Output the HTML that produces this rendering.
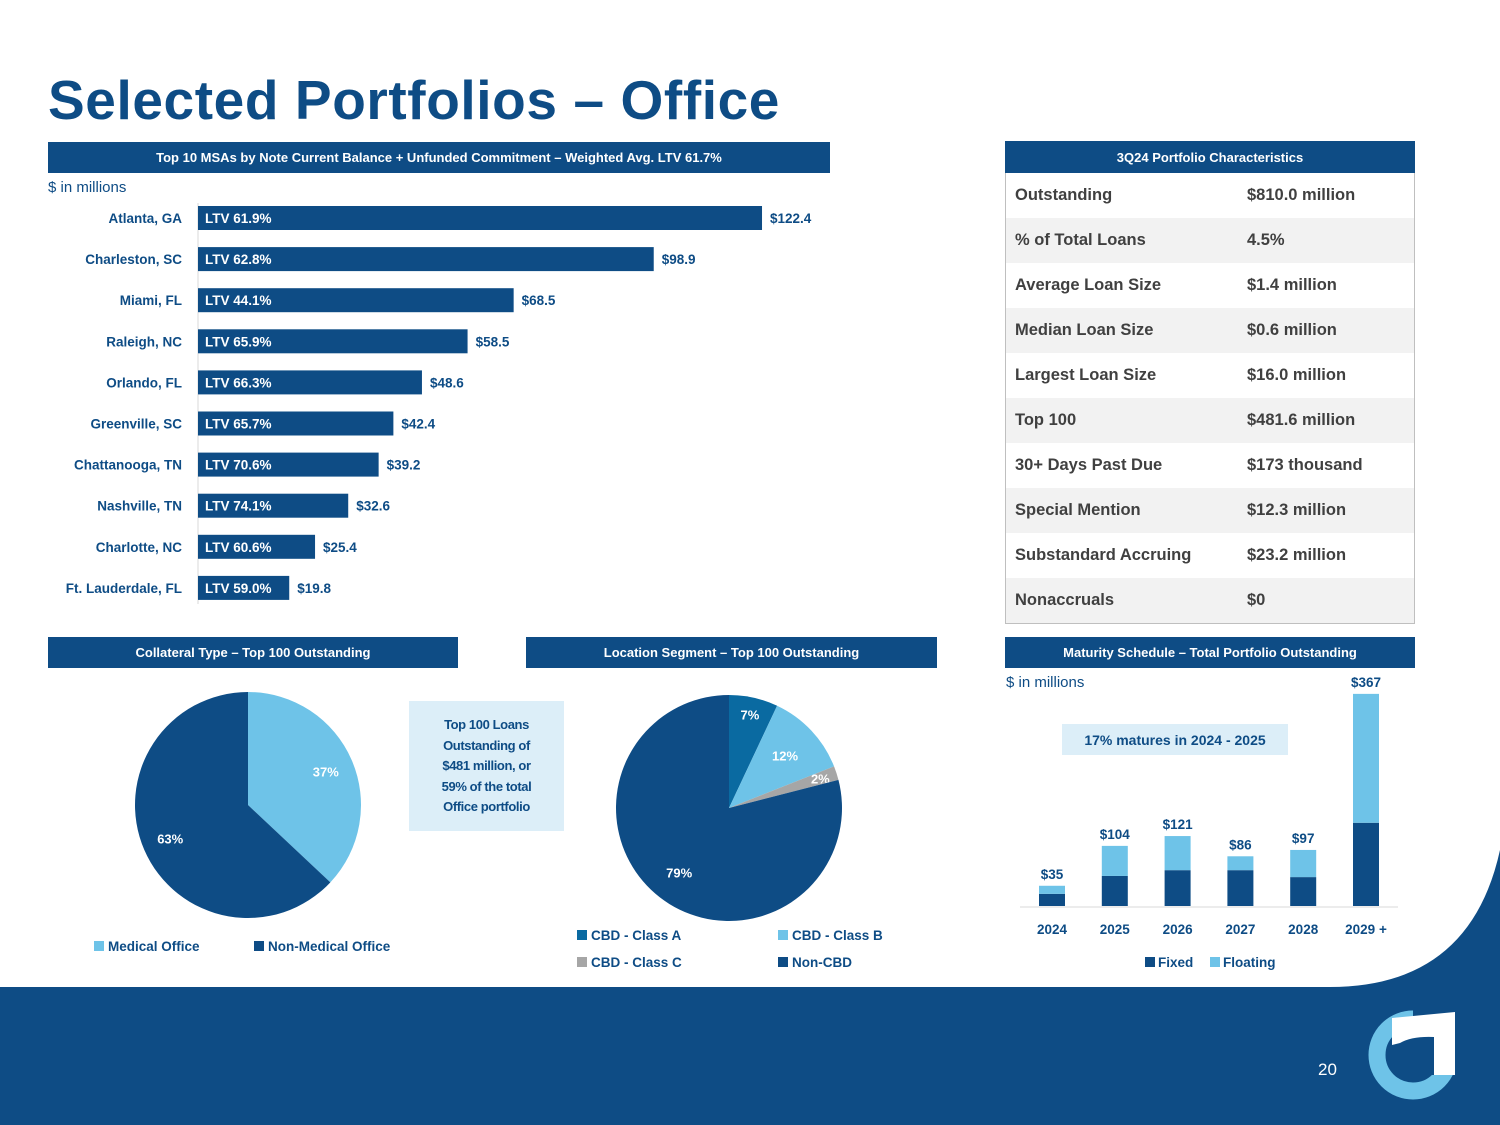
<!DOCTYPE html>
<html><head><meta charset="utf-8"><style>
*{margin:0;padding:0;box-sizing:border-box}
body{width:1500px;height:1125px;position:relative;background:#fff;font-family:"Liberation Sans",sans-serif;overflow:hidden;color:#0e4c85}
.abs{position:absolute}
.hdr{position:absolute;background:#0e4c85;color:#fff;font-weight:bold;font-size:13px;text-align:center;display:flex;align-items:center;justify-content:center}
.tbl{position:absolute;left:1005px;top:173px;width:410px;border:1px solid #bfbfbf;border-top:none}
.row{height:45px;display:flex;align-items:center;font-size:16.5px;font-weight:bold;color:#404040}
.row:nth-child(even){background:#f2f2f2}
.row span:first-child{width:241px;padding-left:9px}
</style></head><body>
<svg class="abs" style="left:0;top:0" width="1500" height="1125">
<rect x="0" y="987" width="1500" height="138" fill="#0e4c85"/>
<path d="M1500,850 Q1470,987 1330,987 L1500,987 Z" fill="#0e4c85"/>
<circle cx="1413" cy="1055" r="36" fill="none" stroke="#6ec3e8" stroke-width="17"/>
<rect x="1413" y="1000" width="60" height="75" fill="#0e4c85"/>
<path d="M1392,1018 L1455,1012 L1455,1075 L1434,1075 L1434,1037 Q1412,1036 1400,1043 L1392,1045 Z" fill="#fff"/>
<text x="1318" y="1075" font-size="17" fill="#fff" font-family="Liberation Sans">20</text>
</svg>
<div class="abs" style="left:48px;top:68px;font-size:55px;font-weight:bold;color:#0e4c85;letter-spacing:0.6px">Selected Portfolios – Office</div>

<div class="hdr" style="left:48px;top:142px;width:782px;height:31px">Top 10 MSAs by Note Current Balance + Unfunded Commitment – Weighted Avg. LTV 61.7%</div>
<div class="abs" style="left:48px;top:179px;font-size:15px;color:#0e4c85">$ in millions</div>
<svg class="abs" id="msa" style="left:0;top:0" width="900" height="620"></svg>

<div class="hdr" style="left:1005px;top:141px;width:410px;height:32px">3Q24 Portfolio Characteristics</div>
<div class="tbl">
<div class="row"><span>Outstanding</span><span>$810.0 million</span></div>
<div class="row"><span>% of Total Loans</span><span>4.5%</span></div>
<div class="row"><span>Average Loan Size</span><span>$1.4 million</span></div>
<div class="row"><span>Median Loan Size</span><span>$0.6 million</span></div>
<div class="row"><span>Largest Loan Size</span><span>$16.0 million</span></div>
<div class="row"><span>Top 100</span><span>$481.6 million</span></div>
<div class="row"><span>30+ Days Past Due</span><span>$173 thousand</span></div>
<div class="row"><span>Special Mention</span><span>$12.3 million</span></div>
<div class="row"><span>Substandard Accruing</span><span>$23.2 million</span></div>
<div class="row"><span>Nonaccruals</span><span>$0</span></div>
</div>

<div class="hdr" style="left:48px;top:637px;width:410px;height:31px">Collateral Type – Top 100 Outstanding</div>
<div class="hdr" style="left:526px;top:637px;width:411px;height:31px">Location Segment – Top 100 Outstanding</div>
<div class="hdr" style="left:1005px;top:637px;width:410px;height:31px">Maturity Schedule – Total Portfolio Outstanding</div>

<div class="abs" style="left:409px;top:701px;width:155px;height:130px;background:#dceef8;font-size:13px;letter-spacing:-0.4px;font-weight:bold;text-align:center;line-height:20.5px;padding-top:14px;color:#0e4c85">Top 100 Loans<br>Outstanding of<br>$481 million, or<br>59% of the total<br>Office portfolio</div>

<svg class="abs" id="pies" style="left:0;top:0" width="1000" height="990"></svg>

<div class="abs" style="left:1006px;top:674px;font-size:15px;color:#0e4c85">$ in millions</div>
<div class="abs" style="left:1062px;top:724px;width:226px;height:31px;background:#dceef8;font-size:14px;font-weight:bold;display:flex;align-items:center;justify-content:center">17% matures in 2024 - 2025</div>
<svg class="abs" id="mat" style="left:0;top:0" width="1500" height="990"></svg>

<script>
const NS="http://www.w3.org/2000/svg";
function mk(p,t,a){const e=document.createElementNS(NS,t);for(const k in a)e.setAttribute(k,a[k]);p.appendChild(e);return e;}
const navy="#0e4c85",light="#6ec3e8";

// MSA chart
const msaCities=["Atlanta, GA","Charleston, SC","Miami, FL","Raleigh, NC","Orlando, FL","Greenville, SC","Chattanooga, TN","Nashville, TN","Charlotte, NC","Ft. Lauderdale, FL"];
const msaBalances=[122.4,98.9,68.5,58.5,48.6,42.4,39.2,32.6,25.4,19.8];
const msaLtv=["61.9%","62.8%","44.1%","65.9%","66.3%","65.7%","70.6%","74.1%","60.6%","59.0%"];
const msa=document.getElementById('msa');
const mx=v=>198+v*4.608, my=i=>218+i*41.1;
mk(msa,'line',{x1:198,y1:203,x2:198,y2:604,stroke:'#d9d9d9'});
msaCities.forEach((c,i)=>{
 const y=my(i);
 const r=mk(msa,'rect',{x:198,y:y-12,width:mx(msaBalances[i])-198,height:24,fill:navy});
 
 
 const t=mk(msa,'text',{x:182,y:y+5,'text-anchor':'end','font-size':13.5,'font-weight':'bold',fill:navy});t.textContent=c;
 
 
 const l=mk(msa,'text',{x:205,y:y+5,'font-size':13.5,'font-weight':'bold',fill:'#fff'});l.textContent='LTV '+msaLtv[i];
 
 
 const v=mk(msa,'text',{x:mx(msaBalances[i])+8,y:y+5,'font-size':13.5,'font-weight':'bold',fill:navy});v.textContent='$'+msaBalances[i].toFixed(1);
 
 
});

// Pies
const collateralLabels=["Medical Office","Non-Medical Office"];
const collateralValues=[37,63];
const collateralColors=[light,navy];
const locationLabels=["CBD - Class A","CBD - Class B","CBD - Class C","Non-CBD"];
const locationValues=[7,12,2,79];
const locationColors=["#0a6aa1",light,"#a6a6a6",navy];
const pies=document.getElementById('pies');
function pie(cx,cy,r,vals,cols,name,lblPos){
 const tot=vals.reduce((a,b)=>a+b,0);let a0=-Math.PI/2;
 vals.forEach((v,i)=>{
  const a1=a0+v/tot*2*Math.PI;
  const x0=cx+r*Math.cos(a0),y0=cy+r*Math.sin(a0),x1=cx+r*Math.cos(a1),y1=cy+r*Math.sin(a1);
  const p=mk(pies,'path',{d:`M${cx},${cy} L${x0},${y0} A${r},${r} 0 ${a1-a0>Math.PI?1:0} 1 ${x1},${y1} Z`,fill:cols[i]});
  
  
  const am=(a0+a1)/2,lr=r*lblPos[i];
  const t=mk(pies,'text',{x:cx+lr*Math.cos(am),y:cy+lr*Math.sin(am)+5,'text-anchor':'middle','font-size':13,'font-weight':'bold',fill:'#fff'});
  t.textContent=v+'%';
  
  
  a0=a1;
 });
}
pie(248,805,113,collateralValues,collateralColors,'collateral',[0.75,0.75]);
pie(729,808,113,locationValues,locationColors,'location',[0.85,0.68,0.85,0.72]);
function legend(x,y,col,txt,name){
 const r=mk(pies,'rect',{x:x,y:y-10,width:10,height:10,fill:col});
 
 
 const t=mk(pies,'text',{x:x+14,y:y,'font-size':13.5,'font-weight':'bold',fill:navy});t.textContent=txt;
 
 
}
legend(94,951,collateralColors[0],collateralLabels[0],'collateral');
legend(254,951,collateralColors[1],collateralLabels[1],'collateral');
legend(577,940,locationColors[0],locationLabels[0],'location');
legend(778,940,locationColors[1],locationLabels[1],'location');
legend(577,967,locationColors[2],locationLabels[2],'location');
legend(778,967,locationColors[3],locationLabels[3],'location');

// Maturity
const matYears=["2024","2025","2026","2027","2028","2029 +"];
const matFixed=[21,52,62,62,50,144];
const matFloating=[14,52,59,24,47,223];
const mat=document.getElementById('mat');
const base=906,sc=0.578,bx=i=>1052+i*62.8;
mk(mat,'line',{x1:1020,y1:base+1,x2:1398,y2:base+1,stroke:'#d9d9d9'});
matYears.forEach((yr,i)=>{
 const x=bx(i)-13,hf=matFixed[i]*sc,hl=matFloating[i]*sc;
 const f=mk(mat,'rect',{x:x,y:base-hf,width:26,height:hf,fill:navy});
 
 
 const l=mk(mat,'rect',{x:x,y:base-hf-hl,width:26,height:hl,fill:light});
 
 
 const v=mk(mat,'text',{x:bx(i),y:base-hf-hl-7,'text-anchor':'middle','font-size':13.5,'font-weight':'bold',fill:navy});
 v.textContent='$'+(matFixed[i]+matFloating[i]);
 
 
 const t=mk(mat,'text',{x:bx(i),y:934,'text-anchor':'middle','font-size':13.5,'font-weight':'bold',fill:navy});t.textContent=yr;
 
 
});
[[1145,navy,'Fixed'],[1210,light,'Floating']].forEach(([x,c,s])=>{
 const r=mk(mat,'rect',{x:x,y:957,width:10,height:10,fill:c});
 
 
 const t=mk(mat,'text',{x:x+13,y:967,'font-size':13.5,'font-weight':'bold',fill:navy});t.textContent=s;
 
 
});
</script>
</body></html>
